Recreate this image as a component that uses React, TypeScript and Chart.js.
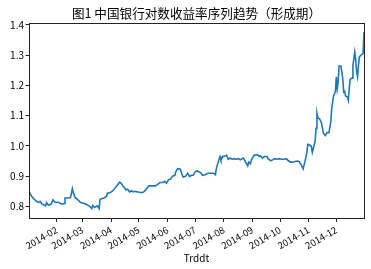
import React, { useEffect, useRef } from 'react';
import { Chart, registerables } from 'chart.js';

Chart.register(...registerables);

const TITLE = '图1 中国银行对数收益率序列趋势（形成期）';
const X_TITLE = 'Trddt';

const DATES = [
  '2014-01-02', '2014-01-05', '2014-01-09', '2014-01-12', '2014-01-14', '2014-01-16', '2014-01-20', '2014-01-21',
  '2014-01-23', '2014-01-26', '2014-01-28', '2014-01-30', '2014-02-03', '2014-02-07', '2014-02-09', '2014-02-10',
  '2014-02-14', '2014-02-16', '2014-02-18', '2014-02-19', '2014-02-21', '2014-02-24', '2014-02-27', '2014-03-02',
  '2014-03-06', '2014-03-09', '2014-03-11', '2014-03-12', '2014-03-14', '2014-03-17', '2014-03-19', '2014-03-20',
  '2014-03-24', '2014-03-27', '2014-03-28', '2014-03-31', '2014-04-03', '2014-04-06', '2014-04-07', '2014-04-10',
  '2014-04-12', '2014-04-14', '2014-04-15', '2014-04-17', '2014-04-19', '2014-04-21', '2014-04-23', '2014-04-25',
  '2014-04-27', '2014-04-30', '2014-05-03', '2014-05-05', '2014-05-07', '2014-05-10', '2014-05-12', '2014-05-15',
  '2014-05-19', '2014-05-22', '2014-05-24', '2014-05-27', '2014-05-29', '2014-05-31', '2014-06-02', '2014-06-04',
  '2014-06-05', '2014-06-07', '2014-06-09', '2014-06-10', '2014-06-12', '2014-06-15', '2014-06-16', '2014-06-18',
  '2014-06-20', '2014-06-21', '2014-06-23', '2014-06-25', '2014-06-27', '2014-06-29', '2014-07-01', '2014-07-03',
  '2014-07-05', '2014-07-07', '2014-07-09', '2014-07-12', '2014-07-15', '2014-07-18', '2014-07-21', '2014-07-23',
  '2014-07-24', '2014-07-26', '2014-07-28', '2014-07-29', '2014-07-31', '2014-08-02', '2014-08-04', '2014-08-06',
  '2014-08-08', '2014-08-10', '2014-08-13', '2014-08-15', '2014-08-17', '2014-08-19', '2014-08-22', '2014-08-23',
  '2014-08-25', '2014-08-27', '2014-08-28', '2014-08-30', '2014-08-31', '2014-09-03', '2014-09-06', '2014-09-09',
  '2014-09-10', '2014-09-12', '2014-09-14', '2014-09-17', '2014-09-18', '2014-09-21', '2014-09-23', '2014-09-25',
  '2014-09-28', '2014-09-30', '2014-10-03', '2014-10-06', '2014-10-08', '2014-10-10', '2014-10-13', '2014-10-16',
  '2014-10-20', '2014-10-22', '2014-10-24', '2014-10-26', '2014-10-28', '2014-10-30', '2014-10-31', '2014-11-02',
  '2014-11-04', '2014-11-05', '2014-11-08', '2014-11-09', '2014-11-10', '2014-11-11', '2014-11-13', '2014-11-15',
  '2014-11-17', '2014-11-19', '2014-11-21', '2014-11-23', '2014-11-25', '2014-11-26', '2014-11-28', '2014-11-29',
  '2014-11-30', '2014-12-01', '2014-12-02', '2014-12-03', '2014-12-04', '2014-12-06', '2014-12-07', '2014-12-08',
  '2014-12-09', '2014-12-10', '2014-12-11', '2014-12-13', '2014-12-14', '2014-12-15', '2014-12-16', '2014-12-18',
  '2014-12-19', '2014-12-21', '2014-12-22', '2014-12-23', '2014-12-24', '2014-12-25', '2014-12-26', '2014-12-28',
  '2014-12-30', '2014-12-31',
];

const VALUES = [
  0.850, 0.833, 0.820, 0.813, 0.817, 0.808, 0.802, 0.813,
  0.804, 0.808, 0.822, 0.815, 0.813, 0.808, 0.810, 0.828,
  0.828, 0.830, 0.859, 0.846, 0.830, 0.822, 0.813, 0.811,
  0.806, 0.800, 0.793, 0.804, 0.797, 0.802, 0.793, 0.824,
  0.828, 0.833, 0.844, 0.846, 0.852, 0.864, 0.868, 0.880,
  0.877, 0.866, 0.864, 0.855, 0.857, 0.848, 0.852, 0.848,
  0.850, 0.848, 0.846, 0.846, 0.850, 0.861, 0.868, 0.868,
  0.868, 0.875, 0.879, 0.879, 0.883, 0.877, 0.888, 0.890,
  0.894, 0.901, 0.903, 0.914, 0.925, 0.923, 0.912, 0.897,
  0.899, 0.901, 0.910, 0.899, 0.903, 0.903, 0.914, 0.918,
  0.914, 0.912, 0.903, 0.905, 0.910, 0.910, 0.910, 0.905,
  0.925, 0.947, 0.965, 0.954, 0.965, 0.967, 0.969, 0.956,
  0.960, 0.956, 0.958, 0.956, 0.958, 0.954, 0.960, 0.956,
  0.945, 0.934, 0.947, 0.941, 0.954, 0.969, 0.971, 0.965,
  0.967, 0.960, 0.965, 0.965, 0.958, 0.951, 0.954, 0.958,
  0.956, 0.958, 0.956, 0.956, 0.958, 0.951, 0.946, 0.948,
  0.950, 0.948, 0.937, 0.924, 0.948, 0.976, 1.005, 1.003,
  0.998, 0.979, 1.014, 1.058, 1.108, 1.093, 1.089, 1.075,
  1.042, 1.034, 1.044, 1.044, 1.079, 1.123, 1.165, 1.173,
  1.178, 1.228, 1.189, 1.211, 1.264, 1.264, 1.244, 1.222,
  1.178, 1.180, 1.165, 1.162, 1.151, 1.189, 1.220, 1.224,
  1.266, 1.310, 1.286, 1.244, 1.228, 1.266, 1.294, 1.301,
  1.305, 1.376,
];

const X_TICK_DATES = [
  '2014-02-01', '2014-03-01', '2014-04-01', '2014-05-01', '2014-06-01', '2014-07-01',
  '2014-08-01', '2014-09-01', '2014-10-01', '2014-11-01', '2014-12-01',
];
const X_TICK_LABELS = [
  '2014-02', '2014-03', '2014-04', '2014-05', '2014-06', '2014-07',
  '2014-08', '2014-09', '2014-10', '2014-11', '2014-12',
];
const Y_TICKS = [0.8, 0.9, 1.0, 1.1, 1.2, 1.3, 1.4];
const Y_MIN = 0.762;
const Y_MAX = 1.406;

const dayOf = (s: string) => {
  const [y, m, d] = s.split('-').map(Number);
  return (Date.UTC(y, m - 1, d) - Date.UTC(2014, 0, 1)) / 86400000;
};

const AXIS_COLOR = '#222';
const FONT_FAMILY = '"Noto Sans CJK SC", sans-serif';

const framePlugin = {
  id: 'frameAndTitle',
  afterDraw(chart: any) {
    const { ctx, chartArea: a } = chart;
    ctx.save();
    ctx.strokeStyle = AXIS_COLOR;
    ctx.lineWidth = 1;
    const l = Math.round(a.left) + 0.5;
    const t = Math.round(a.top) + 0.5;
    const r = Math.round(a.right) + 0.5;
    const b = Math.round(a.bottom) + 0.5;
    ctx.strokeRect(l, t, r - l, b - t);
    ctx.fillStyle = '#000';
    ctx.font = '12.6px ' + FONT_FAMILY;
    ctx.textAlign = 'center';
    ctx.textBaseline = 'middle';
    ctx.fillText(TITLE, (a.left + a.right) / 2, 13.5);
    ctx.restore();
  },
};

export default function App() {
  const ref = useRef<HTMLCanvasElement | null>(null);

  useEffect(() => {
    document.body.style.margin = '0';
    const canvas = ref.current;
    if (!canvas) return;
    const points = DATES.map((d, i) => ({ x: dayOf(d), y: VALUES[i] }));
    const xTickValues = X_TICK_DATES.map(dayOf);

    const chart = new Chart(canvas, {
      type: 'line',
      data: {
        datasets: [
          {
            data: points,
            borderColor: '#1f77b4',
            borderWidth: 1.6,
            pointRadius: 0,
            tension: 0,
            fill: false,
          },
        ],
      },
      options: {
        animation: false,
        responsive: false,
        maintainAspectRatio: false,
        events: [],
        layout: { padding: { top: 23, left: 0, right: 7, bottom: 0 } },
        plugins: {
          legend: { display: false },
          tooltip: { enabled: false },
          title: { display: false },
        },
        scales: {
          x: {
            type: 'linear',
            min: dayOf(DATES[0]),
            max: dayOf(DATES[DATES.length - 1]),
            afterBuildTicks: (scale: any) => {
              scale.ticks = xTickValues.map((v) => ({ value: v }));
            },
            afterFit: (scale: any) => {
              scale.height = 51;
            },
            ticks: {
              autoSkip: false,
              minRotation: 30,
              maxRotation: 30,
              padding: 2,
              color: '#000',
              font: { family: FONT_FAMILY, size: 9.5 },
              callback: (value: any) => {
                const idx = xTickValues.indexOf(Number(value));
                return idx >= 0 ? X_TICK_LABELS[idx] : '';
              },
            },
            grid: {
              display: true,
              drawOnChartArea: false,
              drawTicks: true,
              tickLength: 4,
              color: AXIS_COLOR,
            },
            border: { display: false },
            title: {
              display: true,
              text: X_TITLE,
              color: '#000',
              font: { family: FONT_FAMILY, size: 10 },
              padding: { top: 0, bottom: 5 },
            },
          },
          y: {
            type: 'linear',
            min: Y_MIN,
            max: Y_MAX,
            afterBuildTicks: (scale: any) => {
              scale.ticks = Y_TICKS.map((v) => ({ value: v }));
            },
            afterFit: (scale: any) => {
              scale.width = 29;
            },
            ticks: {
              padding: 1.5,
              color: '#000',
              font: { family: FONT_FAMILY, size: 10 },
              callback: (value: any) => Number(value).toFixed(1),
            },
            grid: {
              display: true,
              drawOnChartArea: false,
              drawTicks: true,
              tickLength: 3.5,
              color: AXIS_COLOR,
            },
            border: { display: false },
          },
        },
      },
      plugins: [framePlugin],
    });

    return () => chart.destroy();
  }, []);

  return (
    <div style={{ width: 371, height: 269, position: 'relative' }}>
      <canvas ref={ref} width={371} height={269} style={{ display: 'block' }} />
    </div>
  );
}
